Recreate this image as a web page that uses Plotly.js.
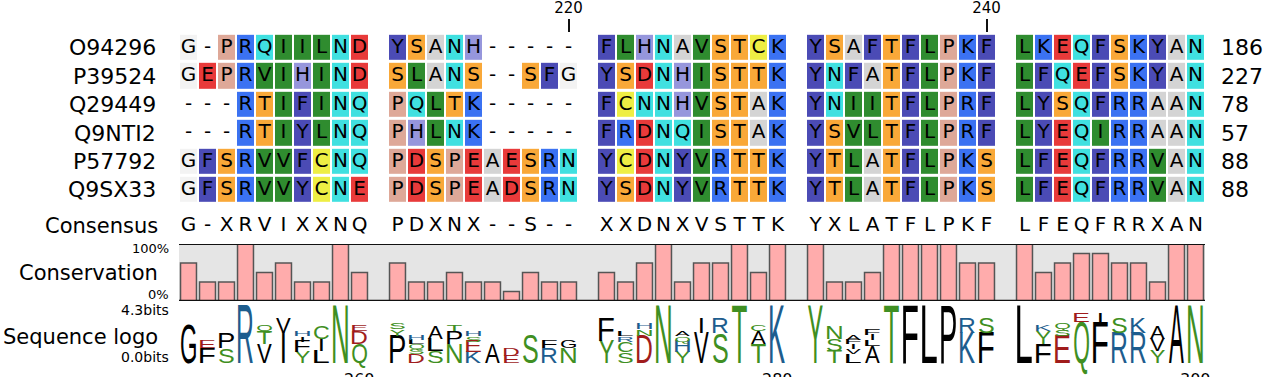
<!DOCTYPE html>
<html><head><meta charset="utf-8">
<script src="https://cdn.plot.ly/plotly-3.0.1.min.js"></script>
<style>html,body{margin:0;padding:0;background:#fff;overflow:hidden}#chart{width:1280px;height:377px}</style>
</head><body><div id="chart"></div>
<script>
// ---------------- data ----------------
const seqIds = ['O94296', 'P39524', 'Q29449', 'Q9NTI2', 'P57792', 'Q9SX33'];
const seqEndNumbers = [186, 227, 78, 57, 88, 88];
const sequences = [
  'G-PRQIILND' + 'YSANH-----' + 'FLHNAVSTCK' + 'YSAFTFLPKF' + 'LKEQFSKYAN',
  'GEPRVIHIND' + 'SLANS--SFG' + 'YSDNHISTTK' + 'YNFATFLPKF' + 'LFQEFSKYAN',
  '---RTIFINQ' + 'PQLTK-----' + 'FCNNHVSTAK' + 'YNIITFLPRF' + 'LYSQFRRAAN',
  '---RTIYLNQ' + 'PHLNK-----' + 'FRDNQISTAK' + 'YSVLTFLPRF' + 'LYEQIRRAAN',
  'GFSRVVFCNQ' + 'PDSPEAESRN' + 'YCDNYVRTTK' + 'YTLATFLPKS' + 'LFEQFRRVAN',
  'GFSRVVYCNE' + 'PDSPEADSRN' + 'YSDNYVRTTK' + 'YTLATFLPKS' + 'LFEQFRRVAN'
];
const consensus = 'G-XRVIXXNQ' + 'PDXNX--S--' + 'XXDNXVSTTK' + 'YXLATFLPKF' + 'LFEQFRRXAN';
// conservation (fraction of sequences sharing the most common residue)
const conservation = [
  0.667, 0.333, 0.333, 1.0, 0.5, 0.667, 0.333, 0.333, 1.0, 0.5,
  0.667, 0.333, 0.333, 0.5, 0.333, 0.333, 0.167, 0.5, 0.333, 0.333,
  0.5, 0.333, 0.667, 1.0, 0.333, 0.667, 0.667, 1.0, 0.5, 1.0,
  1.0, 0.333, 0.333, 0.5, 1.0, 1.0, 1.0, 1.0, 0.667, 0.667,
  1.0, 0.5, 0.667, 0.833, 0.833, 0.667, 0.667, 0.333, 1.0, 1.0
];
const rowStartPosition = 201;
const nextRowStartPosition = 251;
const topRulerPositions = [220, 240];
const bottomRulerPositions = [260, 280, 300];
const blockSize = 10;

// ---------------- styles ----------------
const W = 1280, H = 377;
const residueClass = {G:0, A:1, I:2, L:2, V:2, M:2, F:3, Y:3, W:3, H:4, S:5, T:5, N:6, Q:6, D:7, E:7, K:8, R:8, P:9, C:10};
const classColors = ['#f3f3f3', '#d4d4d4', '#2f8c2f', '#4b4bb5', '#9696dc', '#f9a838', '#40e0e0', '#e83a3a', '#3b72f2', '#dea898', '#eeee44'];
const logoColorOf = ch => ('DE'.includes(ch) ? '#a01c1c' : 'KRH'.includes(ch) ? '#1d5d8e' : 'STYCNQ'.includes(ch) ? '#3f8f22' : '#000000');
const FONT = 'DejaVu Sans, Arial, sans-serif';

const py = p => (H - p) / H;          // pixel row -> paper y
const px = p => p / W;                // pixel column -> paper x
const slotOf = col => col + Math.floor(col / blockSize);
const nCols = consensus.length;
const nSlots = slotOf(nCols - 1) + 1;

// ---------------- cells (heatmap) ----------------
const slots = Array.from({length: nSlots}, (_, i) => i);
const z = sequences.map(seq => {
  const row = new Array(nSlots).fill(null);
  for (let c = 0; c < nCols; c++) {
    const ch = seq[c];
    if (ch in residueClass) row[slotOf(c)] = residueClass[ch];
  }
  return row;
});
const nClass = classColors.length;
const colorscale = [];
classColors.forEach((c, i) => { colorscale.push([i / nClass, c]); colorscale.push([(i + 1) / nClass, c]); });

const heat = {
  type: 'heatmap', x: slots, y: sequences.map((_, i) => i), z: z,
  colorscale: colorscale, zmin: -0.5, zmax: nClass - 0.5, showscale: false,
  xgap: 2, ygap: 3, hoverinfo: 'skip', xaxis: 'x', yaxis: 'y'
};

// letters in cells
const cellX = [], cellY = [], cellT = [];
sequences.forEach((seq, r) => {
  for (let c = 0; c < nCols; c++) { cellX.push(slotOf(c)); cellY.push(r); cellT.push(seq[c]); }
});
const cellText = {
  type: 'scatter', mode: 'text', x: cellX, y: cellY, text: cellT,
  textposition: 'middle center', textfont: {family: FONT, size: 20, color: '#000'},
  hoverinfo: 'skip', xaxis: 'x', yaxis: 'y', showlegend: false
};
const consensusRow = 6.268;
const consText = {
  type: 'scatter', mode: 'text',
  x: consensus.split('').map((_, c) => slotOf(c)), y: consensus.split('').map(() => consensusRow),
  text: consensus.split(''), textposition: 'middle center',
  textfont: {family: FONT, size: 20, color: '#000'}, hoverinfo: 'skip', xaxis: 'x', yaxis: 'y', showlegend: false
};

// ---------------- conservation bars ----------------
const bars = {
  type: 'bar', x: conservation.map((_, c) => slotOf(c)), y: conservation, width: 0.84,
  marker: {color: '#ffacac', line: {color: '#555555', width: 1.5}},
  hoverinfo: 'skip', xaxis: 'x', yaxis: 'y2', showlegend: false
};

// ---------------- sequence logo ----------------
const maxBits = Math.log2(20);
const logoPts = [];
for (let c = 0; c < nCols; c++) {
  const counts = {}; let n = 0;
  sequences.forEach(s => { const ch = s[c]; if (ch !== '-') { counts[ch] = (counts[ch] || 0) + 1; n++; } });
  if (!n) continue;
  let ent = 0;
  Object.values(counts).forEach(k => { const p = k / n; ent -= p * Math.log2(p); });
  const info = (maxBits - ent) * n / sequences.length;
  const letters = Object.keys(counts).sort((a, b) => counts[b] - counts[a] || (a < b ? 1 : -1));
  let base = 0;
  letters.forEach(ch => { const h = info * counts[ch] / n; logoPts.push({slot: slotOf(c), base, h, ch}); base += h; });
}
const logo = {
  type: 'scatter', mode: 'text', x: logoPts.map(p => p.slot), y: logoPts.map(p => p.base + p.h / 2),
  text: logoPts.map(p => p.ch), textposition: 'middle center', cliponaxis: false,
  textfont: {family: 'Liberation Sans, Arial, sans-serif', size: 12, color: logoPts.map(p => logoColorOf(p.ch))},
  hoverinfo: 'skip', xaxis: 'x', yaxis: 'y3', showlegend: false
};

// ---------------- layout ----------------
const ann = [];
const addAnn = (o) => ann.push(Object.assign({showarrow: false, font: {family: FONT, size: 22, color: '#000'}}, o));
seqIds.forEach((id, i) => {
  addAnn({text: id, xref: 'paper', x: px(158), xanchor: 'right', yref: 'y', y: i, yanchor: 'middle'});
  addAnn({text: String(seqEndNumbers[i]), xref: 'paper', x: px(1219), xanchor: 'left', yref: 'y', y: i, yanchor: 'middle'});
});
addAnn({text: 'Consensus', xref: 'paper', x: px(160), xanchor: 'right', yref: 'y', y: consensusRow, yanchor: 'middle', font: {family: FONT, size: 21, color: '#000'}});
addAnn({text: 'Conservation', xref: 'paper', x: px(160), xanchor: 'right', yref: 'paper', y: py(273), yanchor: 'middle', font: {family: FONT, size: 21, color: '#000'}});
addAnn({text: 'Sequence logo', xref: 'paper', x: px(160), xanchor: 'right', yref: 'paper', y: py(337), yanchor: 'middle', font: {family: FONT, size: 21, color: '#000'}});
addAnn({text: '100%', xref: 'paper', x: px(171), xanchor: 'right', yref: 'paper', y: py(248), yanchor: 'middle', font: {family: FONT, size: 13, color: '#000'}});
addAnn({text: '0%', xref: 'paper', x: px(171), xanchor: 'right', yref: 'paper', y: py(294), yanchor: 'middle', font: {family: FONT, size: 13, color: '#000'}});
addAnn({text: '4.3bits', xref: 'paper', x: px(171), xanchor: 'right', yref: 'paper', y: py(310), yanchor: 'middle', font: {family: FONT, size: 14, color: '#000'}});
addAnn({text: '0.0bits', xref: 'paper', x: px(171), xanchor: 'right', yref: 'paper', y: py(357), yanchor: 'middle', font: {family: FONT, size: 14, color: '#000'}});
bottomRulerPositions.forEach(p => {
  addAnn({text: String(p), xref: 'x', x: slotOf(p - nextRowStartPosition), xanchor: 'center', yref: 'paper', y: py(368), yanchor: 'top', font: {family: FONT, size: 16, color: '#000'}});
});

const layout = {
  width: W, height: H, margin: {l: 0, r: 0, t: 0, b: 0, pad: 0},
  paper_bgcolor: '#ffffff', plot_bgcolor: 'rgba(0,0,0,0)', showlegend: false, bargap: 0,
  xaxis: {
    domain: [px(179), px(1205)], range: [-0.5, nSlots - 0.5], side: 'top', anchor: 'free', position: py(32),
    showgrid: false, zeroline: false, showline: false, ticks: 'outside', ticklen: 13, tickwidth: 2, tickcolor: '#111',
    tickvals: topRulerPositions.map(p => slotOf(p - rowStartPosition)), ticktext: topRulerPositions.map(String),
    tickfont: {family: FONT, size: 15, color: '#000'}, fixedrange: true
  },
  yaxis: {domain: [py(240), 1], range: [6.761, -1.690], visible: false, fixedrange: true, anchor: 'x'},
  yaxis2: {domain: [py(301), py(244)], range: [0, 1], visible: false, fixedrange: true, anchor: 'x'},
  yaxis3: {domain: [py(363), py(305)], range: [0, maxBits], visible: false, fixedrange: true, anchor: 'x'},
  shapes: [
    {type: 'rect', xref: 'x', yref: 'y2', x0: -0.5, x1: nSlots - 0.5, y0: 0, y1: 1, fillcolor: '#e5e5e5', line: {width: 0}, layer: 'below'},
    {type: 'line', xref: 'x', yref: 'y2', x0: -0.5, x1: nSlots - 0.5, y0: 1, y1: 1, line: {color: '#111', width: 2}},
    {type: 'line', xref: 'x', yref: 'y2', x0: -0.5, x1: nSlots - 0.5, y0: 0, y1: 0, line: {color: '#111', width: 2.5}}
  ],
  annotations: ann
};

const gd = document.getElementById('chart');
Plotly.newPlot(gd, [heat, cellText, consText, bars, logo], layout, {staticPlot: true, displayModeBar: false}).then(stretchLogo);

// stretch each logo glyph to the box given by the library's own y3/x scales
function stretchLogo() {
  const fl = gd._fullLayout, xa = fl.xaxis, ya = fl.yaxis3;
  const ctx = document.createElement('canvas').getContext('2d');
  const LF = 100;
  ctx.font = LF + 'px "Liberation Sans"';
  const met = ch => { const m = ctx.measureText(ch); return {asc: m.actualBoundingBoxAscent, l: m.actualBoundingBoxLeft, r: m.actualBoundingBoxRight}; };
  const refN = met('N');
  const colPx = Math.abs(xa.l2p(1) - xa.l2p(0));
  const targetW = colPx * 0.78;
  let tps = gd.querySelectorAll('.subplot.xy3 .textpoint');
  if (tps.length !== logoPts.length) {
    const all = gd.querySelectorAll('.textpoint');
    tps = Array.prototype.slice.call(all, all.length - logoPts.length);
  }
  Array.prototype.forEach.call(tps, (g, k) => {
    const p = logoPts[k]; const t = g.querySelector('text'); if (!t) return;
    const m = met(p.ch);
    const inkW = (p.ch === 'I') ? (refN.l + refN.r) : (m.l + m.r);
    const sx = targetW / inkW;
    const yb = ya.l2p(p.base), yt = ya.l2p(p.base + p.h);
    const sy = (yb - yt) / m.asc;
    t.style.fontSize = LF + 'px';
    t.style.fontWeight = 'normal';
    t.style.fontFamily = '"Liberation Sans", Arial, sans-serif';
    t.setAttribute('text-anchor', 'start');
    t.setAttribute('x', -(m.r - m.l) / 2);
    t.setAttribute('y', 0);
    t.querySelectorAll('tspan').forEach(s => { s.removeAttribute('x'); s.removeAttribute('y'); s.removeAttribute('dy'); });
    g.setAttribute('transform', 'translate(' + xa.l2p(p.slot) + ',' + yb + ') scale(' + sx + ',' + sy + ')');
  });
}
</script>
</body></html>
